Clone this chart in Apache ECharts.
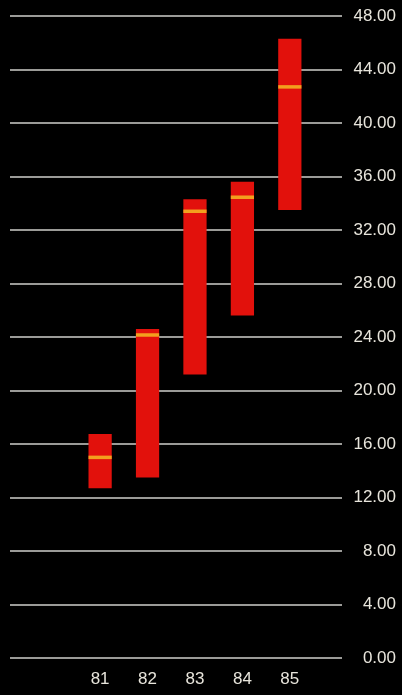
<!DOCTYPE html>
<html>
<head>
<meta charset="utf-8">
<script src="https://cdn.jsdelivr.net/npm/echarts@6/dist/echarts.min.js"></script>
<style>
  html, body { margin: 0; padding: 0; background: #000; }
  #chart { width: 402px; height: 695px; }
</style>
</head>
<body>
<div id="chart"></div>
<script>
// Yearly trading range: low, high and closing value per year
const years  = [81, 82, 83, 84, 85];
const lows   = [12.7, 13.5, 21.2, 25.6, 33.5];
const highs  = [16.75, 24.6, 34.3, 35.6, 46.3];
const closes = [15.0, 24.15, 33.4, 34.45, 42.7];
const yTicks = [0, 4, 8, 12, 16, 20, 24, 28, 32, 36, 40, 44, 48];

const rows = years.map((y, i) => [y, lows[i], highs[i], closes[i]]);

const chart = echarts.init(document.getElementById('chart'));
const textColor = '#e8e5dc';
const font = 'Liberation Sans, Arial, sans-serif';

chart.setOption({
  backgroundColor: '#000',
  animation: false,
  grid: { left: 10, right: 60, top: 16, bottom: 37 },
  xAxis: {
    type: 'value',
    min: 79.1,
    max: 86.1,
    axisLine: { show: false },
    axisTick: { show: false },
    splitLine: { show: false },
    axisLabel: {
      customValues: years,
      formatter: v => String(v),
      color: textColor,
      fontSize: 17,
      fontFamily: font,
      margin: 13
    }
  },
  yAxis: {
    type: 'value',
    position: 'right',
    min: yTicks[0],
    max: yTicks[yTicks.length - 1],
    interval: 4,
    axisLine: { show: false },
    axisTick: { show: false },
    axisLabel: {
      formatter: v => v.toFixed(2),
      color: textColor,
      fontSize: 17,
      fontFamily: font,
      align: 'right',
      margin: 54
    },
    splitLine: { lineStyle: { color: '#cfcfcb', width: 1.6 } }
  },
  series: [{
    type: 'custom',
    data: rows,
    encode: { x: 0, y: [1, 2, 3] },
    renderItem: (params, api) => {
      const x = api.value(0);
      const pLo = api.coord([x, api.value(1)]);
      const pHi = api.coord([x, api.value(2)]);
      const pCl = api.coord([x, api.value(3)]);
      const w = api.size([1, 0])[0] * 0.49;
      return {
        type: 'group',
        children: [
          {
            type: 'rect',
            shape: { x: pHi[0] - w / 2, y: pHi[1], width: w, height: pLo[1] - pHi[1] },
            style: { fill: '#e2110c' }
          },
          {
            type: 'rect',
            shape: { x: pCl[0] - w / 2, y: pCl[1] - 1.75, width: w, height: 3.5 },
            style: { fill: '#f3a01e' }
          }
        ]
      };
    }
  }]
});
</script>
</body>
</html>
